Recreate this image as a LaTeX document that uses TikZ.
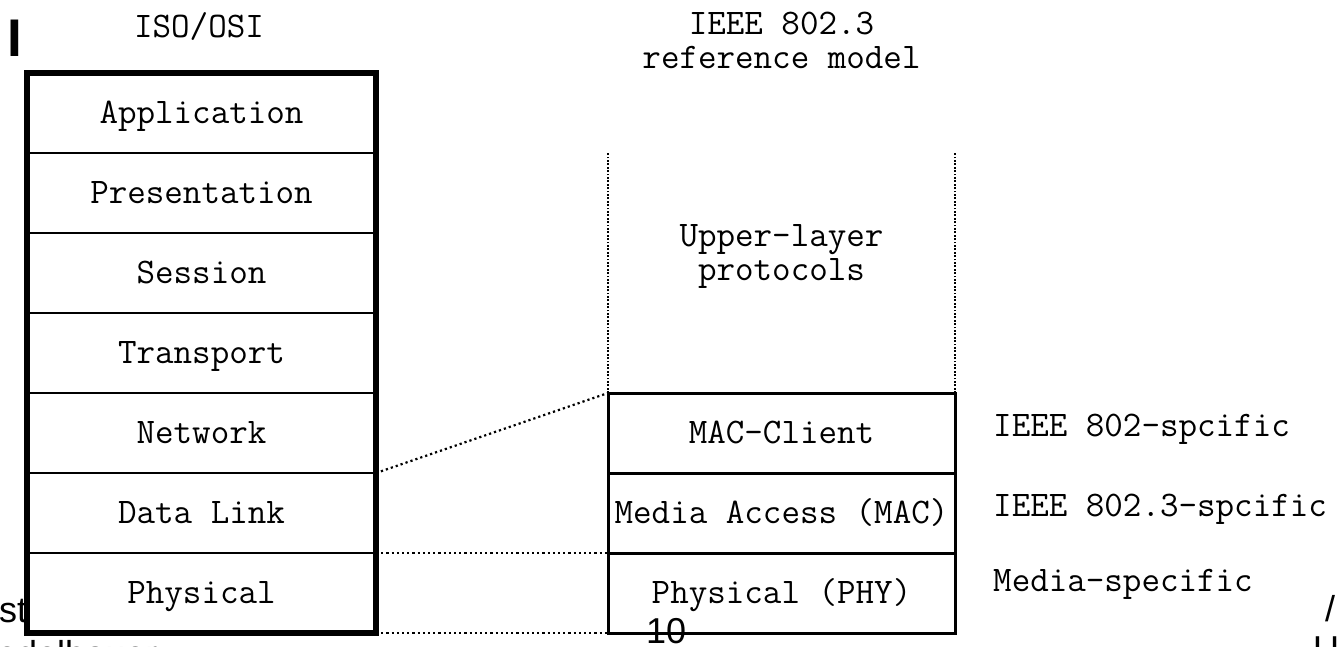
\documentclass[tikz,border=0pt]{standalone}
\usepackage{fontspec}
\usepackage{tikz}
\usetikzlibrary{positioning}
\newfontfamily\slidefont{Liberation Sans}

\begin{document}
\begin{tikzpicture}[
   x=1pt,y=-1pt,
   node distance=0pt,
   layer/.style={draw,fill=white,line width=2.5pt,minimum width=349pt,minimum height=80pt,
                 inner sep=0pt,outer sep=0pt,text height=24pt,text depth=4pt,
                 font=\fontsize{36}{34}\ttfamily},
   ieee/.style={layer,line width=3pt,minimum width=347pt},
   title/.style={align=center,inner sep=0pt,font=\fontsize{36}{34}\ttfamily},
   side/.style={anchor=base west,inner sep=0pt,font=\fontsize{36}{34}\ttfamily},
   slide/.style={anchor=base west,inner sep=0pt,font=\fontsize{36}{40}\slidefont},
   dotline/.style={line width=2.2pt,dash pattern=on 2.2pt off 3pt},
   vdots/.style={line width=2.6pt,dash pattern=on 1.8pt off 1.6pt}]
  \useasboundingbox (0,0) rectangle (1337,646);
  % slide text behind the figure
  \node[slide,font=\fontsize{53}{53}\slidefont\bfseries] (head) at (7.5,56) {I};
  \node[slide] (ste) at (-1,622) {ste};
  \node[slide] (author) at (-3,666) {edelbauer};
  % ISO/OSI stack
  \node[title,anchor=base] (iso) at (199,37) {ISO/OSI};
  \node[layer] (app) at (201.5,113) {Application};
  \node[layer,below=of app] (pres) {Presentation};
  \node[layer,below=of pres] (sess) {Session};
  \node[layer,below=of sess] (trans) {Transport};
  \node[layer,below=of trans] (net) {Network};
  \node[layer,below=of net] (dl) {Data Link};
  \node[layer,below=of dl] (phy) {Physical};
  \draw[line width=5.5pt] (app.north west) rectangle (phy.south east);
  % IEEE 802.3 stack
  \node[title] (ieeetitle) at (781.5,40) {IEEE 802.3\\reference model};
  \node[ieee,right=232pt of net] (mac) {MAC-Client};
  \node[ieee,below=of mac] (media) {Media Access (MAC)};
  \node[ieee,below=of media] (phyr) {Physical (PHY)};
  \coordinate (ultop) at (mac.north west |- pres.north);
  \coordinate (urtop) at (mac.north east |- pres.north);
  \draw[vdots] (mac.north west) -- (ultop);
  \draw[vdots] (mac.north east) -- (urtop);
  \node[title] (upper) at (781.5,256) {Upper-layer\\protocols};
  % mapping between the two models
  \draw[dotline] (net.south east) -- (mac.north west);
  \draw[dotline] (dl.south east) -- (media.south west);
  \draw[dotline] (phy.south east) -- (phyr.south west);
  \node[side] (spec1) at (993,436) {IEEE 802-spcific};
  \node[side] (spec2) at (993,516) {IEEE 802.3-spcific};
  \node[side] (spec3) at (993,591) {Media-specific};
  % slide text in front
  \node[slide] (page) at (646,643) {10};
  \node[slide] (slash) at (1325,621) {/};
  \node[slide] (corner) at (1313,661) {U};
\end{tikzpicture}
\end{document}
